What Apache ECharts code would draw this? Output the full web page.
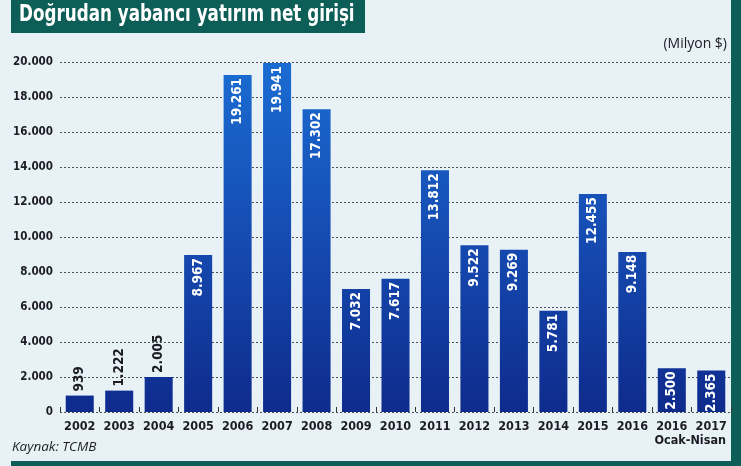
<!DOCTYPE html>
<html>
<head>
<meta charset="utf-8">
<script src="https://cdn.jsdelivr.net/npm/echarts@6/dist/echarts.min.js"></script>
<style>
  html, body { margin: 0; padding: 0; background: #e7f1f6; }
  #chart { width: 741px; height: 466px; }
</style>
</head>
<body>
<div id="chart"></div>
<script>
// ---------------------- data ----------------------
var years = ['2002', '2003', '2004', '2005', '2006', '2007', '2008', '2009', '2010',
  '2011', '2012', '2013', '2014', '2015', '2016', '2016 Ocak-Nisan', '2017 Ocak-Nisan'];
var inflows = [939, 1222, 2005, 8967, 19261, 19941, 17302, 7032, 7617,
  13812, 9522, 9269, 5781, 12455, 9148, 2500, 2365];
var yTicks = [0, 2000, 4000, 6000, 8000, 10000, 12000, 14000, 16000, 18000, 20000];

var titleText = 'Doğrudan yabancı yatırım net girişi';
var unitText = '(Milyon $)';
var sourceText = 'Kaynak: TCMB';
var periodText = 'Ocak-Nisan';

// ---------------------- helpers ----------------------
var narrow = '"Liberation Sans Narrow", "DejaVu Sans Condensed", "Roboto", sans-serif';
var teal = '#0d5e57';
var ink = '#1c1c24';

function dotted(v) {
  return String(v).replace(/\B(?=(\d{3})+(?!\d))/g, '.');
}

var barColor = new echarts.graphic.LinearGradient(0, 62, 0, 412, [
  { offset: 0, color: '#1a6cd2' },
  { offset: 0.55, color: '#1548ae' },
  { offset: 1, color: '#0e2b8c' }
], true);

var barData = inflows.map(function (v) {
  var outside = v < 2200;
  return {
    value: v,
    label: outside ? {
      position: 'top', align: 'left', verticalAlign: 'middle',
      distance: 4, color: ink
    } : {
      position: 'insideTop', align: 'right', verticalAlign: 'middle',
      distance: 3, color: '#ffffff'
    }
  };
});

// ---------------------- chart ----------------------
var chart = echarts.init(document.getElementById('chart'), null, { renderer: 'canvas' });

chart.setOption({
  backgroundColor: '#e7f1f6',
  animation: false,
  grid: { left: 60, right: 10, top: 62, bottom: 54 },
  graphic: [
    { type: 'rect', shape: { x: 11, y: 0, width: 354, height: 33 }, style: { fill: teal } },
    { type: 'rect', shape: { x: 731, y: 0, width: 10, height: 466 }, style: { fill: teal } },
    { type: 'rect', shape: { x: 11, y: 461, width: 730, height: 5 }, style: { fill: teal } },
    {
      type: 'text', x: 19, y: 4, scaleX: 0.81,
      style: { text: titleText, fill: '#ffffff', font: 'bold 23px ' + narrow }
    },
    {
      type: 'text', right: 14, top: 37,
      style: { text: unitText, fill: ink, font: '14px "Open Sans", sans-serif' }
    },
    {
      type: 'text', left: 12, top: 440,
      style: { text: sourceText, fill: ink, font: 'italic 13.5px "Open Sans", sans-serif' }
    },
    {
      type: 'text', right: 15, top: 434,
      style: { text: periodText, fill: ink, font: 'bold 12.5px ' + narrow }
    }
  ],
  xAxis: {
    type: 'category',
    data: years,
    axisLine: { show: false },
    axisTick: { show: true, inside: true, length: 5, lineStyle: { color: '#333', width: 1 } },
    axisLabel: {
      margin: 8, color: ink, fontFamily: narrow, fontWeight: 'bold', fontSize: 12.5,
      interval: 0,
      formatter: function (v) { return v.split(' ')[0]; }
    }
  },
  yAxis: {
    type: 'value',
    min: yTicks[0],
    max: yTicks[yTicks.length - 1],
    interval: yTicks[1] - yTicks[0],
    axisLine: { show: false },
    axisTick: { show: false },
    axisLabel: {
      margin: 7, color: ink, fontFamily: narrow, fontWeight: 'bold', fontSize: 11.5,
      formatter: function (v) { return dotted(v); }
    },
    splitLine: {
      show: true,
      lineStyle: { type: [2, 2], color: '#4a4f55', width: 1 }
    }
  },
  series: [{
    type: 'bar',
    data: barData,
    barCategoryGap: '29%',
    itemStyle: { color: barColor },
    label: {
      show: true,
      rotate: 90,
      fontFamily: narrow,
      fontWeight: 'bold',
      fontSize: 13.5,
      formatter: function (p) { return dotted(p.value); }
    }
  }]
});
</script>
</body>
</html>
